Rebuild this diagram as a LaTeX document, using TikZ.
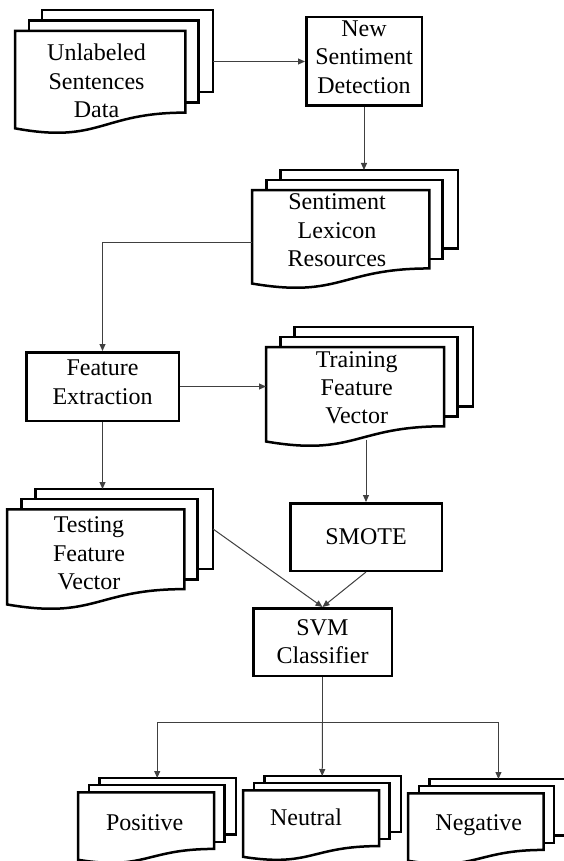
\documentclass[tikz,border=0pt]{standalone}
\usepackage{fontspec}
\setmainfont{Liberation Serif}
\usetikzlibrary{arrows.meta}
\usetikzlibrary{calc}

\begin{document}
\begin{tikzpicture}[
    x=1pt, y=-1pt,
    >={Triangle[length=7pt,width=6pt]},
    proc/.style={rectangle, draw=black, line width=2.5pt, fill=white, align=center,
                 font=\fontsize{24}{28.3}\selectfont, inner sep=0pt},
    sheet/.style={draw=black, line width=2.5pt, fill=white},
    doctxt/.style={align=center, font=\fontsize{24}{28.3}\selectfont, inner sep=0pt},
    link/.style={black!75, line width=1pt},
]
\tikzset{
  pics/mdoc/.style args={#1:#2:#3:#4}{
    code={
      % back, middle and front sheet
      \path[sheet] ({0.1376*#1},0) rectangle ({#1},{0.6663*#2});
      \path[sheet] ({0.0709*#1},{0.084*#2}) rectangle ({0.9259*#1},{0.7524*#2});
      \path[sheet] (0,{0.1701*#2}) -- ({0.8609*#1},{0.1701*#2}) -- ({0.8609*#1},{0.8343*#2})
        .. controls ({0.4305*#1},{0.8343*#2}) and ({0.4305*#1},{1.0899*#2}) .. (0,{0.9621*#2}) -- cycle;
      \node[inner sep=0pt, minimum width=#1pt, minimum height=#2pt, anchor=north west] (-b) at (0,0) {};
      \coordinate (-r) at ({#1},{0.333*#2});
      \coordinate (-w) at ({0.43*#1},{0.946*#2});
      \node[doctxt] (-t) at (#3) {#4};
    }
  }
}
\useasboundingbox (0,0) rectangle (563,861);

% documents
\pic (unl) at (15,10) {mdoc=198:123:{81.5,70.8}:{Unlabeled\\Sentences\\Data}};
\pic (lex) at (252,170) {mdoc=206:118:{85,60.3}:{Sentiment\\Lexicon\\Resources}};
\pic (train) at (266,327) {mdoc=207:119:{90.7,60.8}:{Training\\Feature\\Vector}};
\pic (test) at (7,489) {mdoc=206:120:{82,64.5}:{Testing\\Feature\\Vector}};
\pic (pos) at (78,778) {mdoc=158:85:{66.7,44.5}:{Positive}};
\pic (neu) at (243,776) {mdoc=158:84:{63,41.5}:{Neutral}};
\pic (neg) at (408,779) {mdoc=157.5:85:{70.8,46}:{Negative}};

% processes
\node[proc, minimum width=115.5pt, minimum height=88.5pt, text depth=9pt] (nsd) at (364,61.5) {New\\Sentiment\\Detection};
\node[proc, minimum width=152.5pt, minimum height=68.5pt, text depth=9pt] (fe) at (102.5,386.5) {Feature\\Extraction};
\node[proc, minimum width=151.5pt, minimum height=67.5pt] (smote) at (366,537) {SMOTE};
\node[proc, minimum width=138.5pt, minimum height=67.5pt] (svm) at (322.5,642) {SVM\\Classifier};

% connectors
\draw[link, ->] (nsd.west -| unl-b.east) -- (nsd.west);
\draw[link, ->] (nsd.south) -- (nsd.south |- lex-b.north);
\draw[link, ->] ([yshift=-13pt]lex-b.west) -| (fe.north);
\draw[link, ->] (fe.east) -- (fe.east -| train-b.west);
\draw[link, ->] (smote.north |- train-w) -- (smote.north);
\draw[link, ->] (fe.south) -- (fe.south |- test-b.north);
\draw[link, ->] (test-r) -- (svm.north);
\draw[link, ->] (smote.south) -- (svm.north);
\coordinate (split) at ([yshift=-45pt]svm.south);
\draw[link] (svm.south) -- (split);
\draw[link, ->] (split) -| (pos-b.north);
\draw[link, ->] (split) -- (neu-b.north);
\draw[link, ->] (split) -| ([xshift=11.5pt]neg-b.north);
\end{tikzpicture}
\end{document}
